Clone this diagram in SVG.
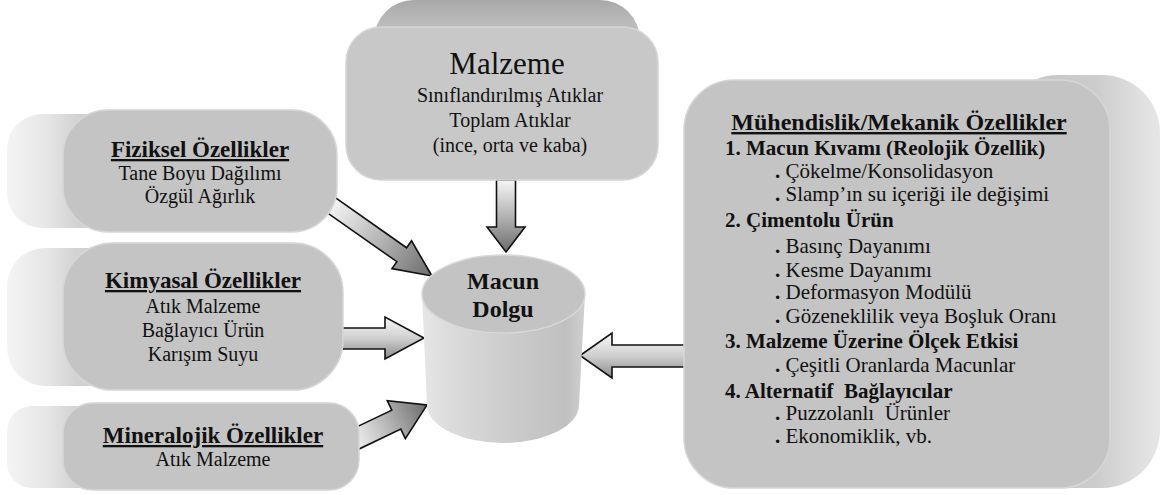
<svg xmlns="http://www.w3.org/2000/svg" width="1163" height="495" viewBox="0 0 1163 495">
<defs>
<linearGradient id="gLeft" x1="0" y1="0" x2="1" y2="0">
<stop offset="0" stop-color="#f4f4f4"/><stop offset="0.2" stop-color="#e6e6e6"/><stop offset="0.35" stop-color="#d2d2d2"/><stop offset="1" stop-color="#c0c0c0"/>
</linearGradient>
<linearGradient id="gTop" x1="0" y1="0" x2="0" y2="1">
<stop offset="0" stop-color="#a8a8a8"/><stop offset="0.22" stop-color="#bababa"/><stop offset="1" stop-color="#c6c6c6"/>
</linearGradient>
<linearGradient id="gRight" x1="0" y1="0" x2="1" y2="0">
<stop offset="0" stop-color="#c4c4c4"/><stop offset="0.6" stop-color="#cccccc"/><stop offset="0.85" stop-color="#dedede"/><stop offset="1" stop-color="#e6e6e6"/>
</linearGradient>
<linearGradient id="gCyl" x1="0" y1="0" x2="1" y2="0">
<stop offset="0" stop-color="#e6e6e6"/><stop offset="0.2" stop-color="#dadada"/><stop offset="0.55" stop-color="#cbcbcb"/><stop offset="0.88" stop-color="#c0c0c0"/><stop offset="1" stop-color="#cfcfcf"/>
</linearGradient>
<linearGradient id="gArrA" x1="0" y1="0" x2="1" y2="0">
<stop offset="0" stop-color="#f6f6f6"/><stop offset="0.5" stop-color="#b4b4b4"/><stop offset="1" stop-color="#6c6c6c"/>
</linearGradient>
<linearGradient id="gArrV" x1="0" y1="0" x2="0" y2="1">
<stop offset="0" stop-color="#f8f8f8"/><stop offset="0.5" stop-color="#d0d0d0"/><stop offset="1" stop-color="#8a8a8a"/>
</linearGradient>
</defs>

<g id="connectors" stroke="#111" stroke-width="1.6">
<polygon fill="url(#gArrA)" transform="translate(506,252) rotate(90)" points="-72,-9.5 -25,-9.5 -25,-19 0,0 -25,19 -25,9.5 -72,9.5"/>
<polygon fill="url(#gArrA)" transform="translate(432,276) rotate(35.1)" points="-125,-8.5 -37,-8.5 -37,-17 0,0 -37,17 -37,8.5 -125,8.5"/>
<polygon fill="url(#gArrV)" points="325,328 385,328 385,317 424,338 385,359 385,349 325,349"/>
<polygon fill="url(#gArrA)" transform="translate(427,405) rotate(-25.5)" points="-85,-10.5 -34,-10.5 -34,-21 0,0 -34,21 -34,10.5 -85,10.5"/>
<polygon fill="url(#gArrV)" points="705,345 612,345 612,333 580,355.5 612,378 612,367 705,367"/>
</g>

<g id="malzeme">
<rect x="374" y="0" width="266" height="100" rx="40" fill="url(#gTop)"/>
<rect x="346" y="27" width="312" height="153" rx="35" fill="#c8c8c8" stroke="#d6d6d6" stroke-width="1.5"/>
<text font-family="Liberation Serif" x="507" y="74" font-size="31" text-anchor="middle" fill="#111">Malzeme</text>
<text font-family="Liberation Serif" font-size="20" text-anchor="middle" fill="#111" x="510" y="102">Sınıflandırılmış Atıklar</text>
<text font-family="Liberation Serif" font-size="20" text-anchor="middle" fill="#111" x="510" y="127">Toplam Atıklar</text>
<text font-family="Liberation Serif" font-size="20" text-anchor="middle" fill="#111" x="510" y="152">(ince, orta ve kaba)</text>
</g>

<g id="fiziksel">
<rect x="7" y="114" width="200" height="114" rx="35" fill="url(#gLeft)"/>
<rect x="63" y="110" width="274" height="122" rx="45" fill="#c4c4c4" stroke="#d6d6d6" stroke-width="1.5"/>
<text font-family="Liberation Serif" font-size="23" font-weight="bold" text-decoration="underline" text-anchor="middle" fill="#111" x="200" y="157">Fiziksel Özellikler</text>
<text font-family="Liberation Serif" font-size="20" text-anchor="middle" fill="#111" x="200" y="180">Tane Boyu Dağılımı</text>
<text font-family="Liberation Serif" font-size="20" text-anchor="middle" fill="#111" x="200" y="203">Özgül Ağırlık</text>
</g>

<g id="kimyasal">
<rect x="7" y="248" width="200" height="138" rx="38" fill="url(#gLeft)"/>
<rect x="63" y="243" width="280" height="147" rx="50" fill="#c4c4c4" stroke="#d6d6d6" stroke-width="1.5"/>
<text font-family="Liberation Serif" font-size="23" font-weight="bold" text-decoration="underline" text-anchor="middle" fill="#111" x="203" y="288">Kimyasal Özellikler</text>
<text font-family="Liberation Serif" font-size="20" text-anchor="middle" fill="#111" x="203" y="313">Atık Malzeme</text>
<text font-family="Liberation Serif" font-size="20" text-anchor="middle" fill="#111" x="203" y="337">Bağlayıcı Ürün</text>
<text font-family="Liberation Serif" font-size="20" text-anchor="middle" fill="#111" x="203" y="361">Karışım Suyu</text>
</g>

<g id="mineralojik">
<rect x="7" y="406" width="200" height="82" rx="25" fill="url(#gLeft)"/>
<rect x="63" y="403" width="296" height="87" rx="30" fill="#c4c4c4" stroke="#d6d6d6" stroke-width="1.5"/>
<text font-family="Liberation Serif" font-size="23" font-weight="bold" text-decoration="underline" text-anchor="middle" fill="#111" x="213" y="443">Mineralojik Özellikler</text>
<text font-family="Liberation Serif" font-size="20" text-anchor="middle" fill="#111" x="213" y="466">Atık Malzeme</text>
</g>

<g id="macun-dolgu">
<path d="M422,294 L427,405 A76,38 0 0 0 579,405 L585,294 Z" fill="url(#gCyl)"/>
<ellipse cx="503.5" cy="294" rx="81.5" ry="39" fill="#c3c3c3" stroke="#d8d8d8" stroke-width="1.5"/>
<text font-family="Liberation Serif" x="503" y="289" font-size="24" font-weight="bold" text-anchor="middle" fill="#111">Macun</text>
<text font-family="Liberation Serif" x="503" y="317" font-size="24" font-weight="bold" text-anchor="middle" fill="#111">Dolgu</text>
</g>

<g id="muhendislik">
<rect x="1000" y="75" width="160" height="413" rx="58" fill="url(#gRight)"/>
<rect x="684" y="80" width="426" height="408" rx="50" fill="#c4c4c4" stroke="#d6d6d6" stroke-width="1.5"/>
<text font-family="Liberation Serif" x="899" y="130" font-size="24" font-weight="bold" text-anchor="middle" text-decoration="underline" fill="#111">Mühendislik/Mekanik Özellikler</text>
<text font-family="Liberation Serif" font-size="21" font-weight="bold" fill="#111" x="725" y="155">1. Macun Kıvamı (Reolojik Özellik)</text>
<text font-family="Liberation Serif" font-size="21" fill="#111" x="775" y="178"><tspan font-weight="bold">.</tspan> Çökelme/Konsolidasyon</text>
<text font-family="Liberation Serif" font-size="21" fill="#111" x="775" y="201"><tspan font-weight="bold">.</tspan> Slamp’ın su içeriği ile değişimi</text>
<text font-family="Liberation Serif" font-size="21" font-weight="bold" fill="#111" x="725" y="227">2. Çimentolu Ürün</text>
<text font-family="Liberation Serif" font-size="21" fill="#111" x="775" y="253"><tspan font-weight="bold">.</tspan> Basınç Dayanımı</text>
<text font-family="Liberation Serif" font-size="21" fill="#111" x="775" y="277"><tspan font-weight="bold">.</tspan> Kesme Dayanımı</text>
<text font-family="Liberation Serif" font-size="21" fill="#111" x="775" y="299"><tspan font-weight="bold">.</tspan> Deformasyon Modülü</text>
<text font-family="Liberation Serif" font-size="21" fill="#111" x="775" y="323"><tspan font-weight="bold">.</tspan> Gözeneklilik veya Boşluk Oranı</text>
<text font-family="Liberation Serif" font-size="21" font-weight="bold" fill="#111" x="725" y="348">3. Malzeme Üzerine Ölçek Etkisi</text>
<text font-family="Liberation Serif" font-size="21" fill="#111" x="775" y="372"><tspan font-weight="bold">.</tspan> Çeşitli Oranlarda Macunlar</text>
<text font-family="Liberation Serif" font-size="21" font-weight="bold" fill="#111" x="725" y="398" xml:space="preserve">4. Alternatif  Bağlayıcılar</text>
<text font-family="Liberation Serif" font-size="21" fill="#111" x="775" y="420" xml:space="preserve"><tspan font-weight="bold">.</tspan> Puzzolanlı  Ürünler</text>
<text font-family="Liberation Serif" font-size="21" fill="#111" x="775" y="443"><tspan font-weight="bold">.</tspan> Ekonomiklik, vb.</text>
</g>
</svg>
